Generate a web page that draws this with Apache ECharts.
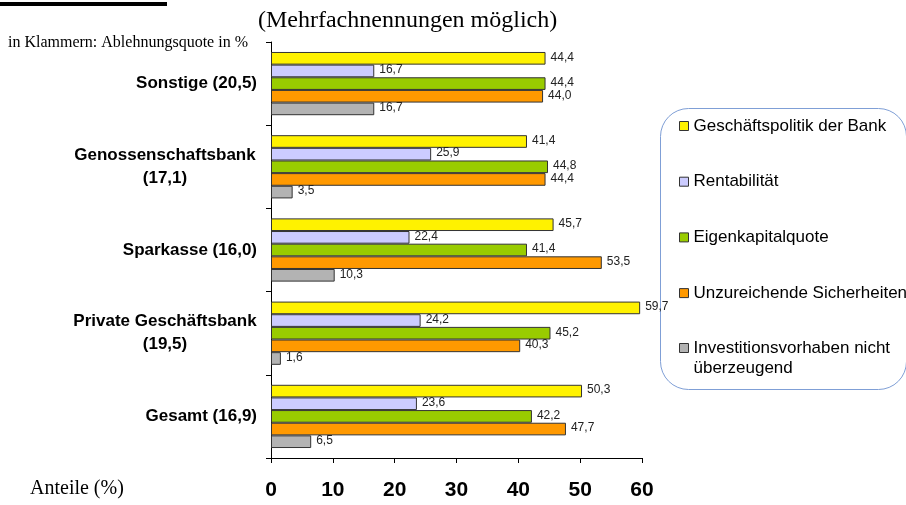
<!DOCTYPE html>
<html>
<head>
<meta charset="utf-8">
<script src="https://cdn.jsdelivr.net/npm/echarts@6/dist/echarts.min.js"></script>
<style>html,body{margin:0;padding:0;background:#fff;}#c{width:906px;height:505px;}</style>
</head>
<body>
<div id="c"></div>
<script>
var categories = ['Sonstige (20,5)', 'Genossenschaftsbank\n(17,1)', 'Sparkasse (16,0)', 'Private Geschäftsbank\n(19,5)', 'Gesamt (16,9)'];
var seriesNames = ['Geschäftspolitik der Bank', 'Rentabilität', 'Eigenkapitalquote', 'Unzureichende Sicherheiten', 'Investitionsvorhaben nicht\nüberzeugend'];
var geschaeftspolitik = [44.4, 41.4, 45.7, 59.7, 50.3];
var rentabilitaet = [16.7, 25.9, 22.4, 24.2, 23.6];
var eigenkapital = [44.4, 44.8, 41.4, 45.2, 42.2];
var sicherheiten = [44.0, 44.4, 53.5, 40.3, 47.7];
var investition = [16.7, 3.5, 10.3, 1.6, 6.5];
var xTicks = [0, 10, 20, 30, 40, 50, 60];
var colors = ['#FFF200', '#CCCCFF', '#99CC00', '#FF9900', '#B3B3B3'];

var SANS = '"Liberation Sans", Arial, sans-serif';
var SERIF = '"Liberation Serif", "Times New Roman", serif';

var cv = document.createElement('canvas').getContext('2d');
cv.font = 'bold 17px ' + SANS;
var maxW = 0;
categories.forEach(function (c) {
  if (c.indexOf('\n') >= 0) c.split('\n').forEach(function (l) { maxW = Math.max(maxW, cv.measureText(l).width); });
});
maxW = Math.ceil(maxW);

var allData = [geschaeftspolitik, rentabilitaet, eigenkapital, sicherheiten, investition];
var series = allData.map(function (d, i) {
  return {
    name: seriesNames[i],
    type: 'bar',
    data: d,
    barGap: '0%',
    barCategoryGap: '24%',
    itemStyle: { color: colors[i], borderColor: '#333', borderWidth: 1 },
    label: {
      show: true, position: 'right', distance: 5, offset: [0, -1],
      fontFamily: SANS, fontSize: 12, color: '#222',
      formatter: function (p) { return p.value.toFixed(1).replace('.', ','); }
    }
  };
});

var legendBase = {
  orient: 'vertical', left: 679, padding: 0,
  itemWidth: 9, itemHeight: 9, itemGap: 35.7,
  icon: 'rect',
  itemStyle: { borderColor: '#333', borderWidth: 1 },
  textStyle: { fontFamily: SANS, fontSize: 17, color: '#000', lineHeight: 20 }
};

var chart = echarts.init(document.getElementById('c'), null, { renderer: 'canvas' });
chart.setOption({
  animation: false,
  backgroundColor: '#fff',
  grid: { left: 271, right: 264, top: 42, bottom: 47, containLabel: false },
  xAxis: {
    type: 'value', min: xTicks[0], max: xTicks[xTicks.length - 1], interval: 10,
    splitLine: { show: false },
    axisLine: { show: true, lineStyle: { color: '#000', width: 1 } },
    axisTick: { show: true, inside: false, length: 5, lineStyle: { color: '#000' } },
    axisLabel: { fontFamily: SANS, fontSize: 21, fontWeight: 'bold', color: '#000', margin: 22 }
  },
  yAxis: {
    type: 'category', data: categories, inverse: true,
    axisLine: { show: true, lineStyle: { color: '#000', width: 1 } },
    axisTick: { show: true, inside: false, length: 5, lineStyle: { color: '#000' } },
    axisLabel: {
      fontFamily: SANS, fontSize: 17, fontWeight: 'bold', color: '#000', margin: 14,
      formatter: function (v) {
        if (v.indexOf('\n') >= 0) {
          return v.split('\n').map(function (l) { return '{c|' + l + '}'; }).join('\n');
        }
        return v;
      },
      rich: { c: { width: maxW, align: 'center', fontFamily: SANS, fontSize: 17, fontWeight: 'bold', color: '#000', lineHeight: 23 } }
    }
  },
  legend: [
    Object.assign({}, legendBase, { top: 116, data: seriesNames.slice(0, 4) }),
    Object.assign({}, legendBase, {
      top: 318, data: seriesNames.slice(4),
      formatter: function (name) { return '{b|\u00a0}\n' + name; },
      textStyle: { fontFamily: SANS, fontSize: 17, color: '#000', lineHeight: 20,
        rich: { b: { fontFamily: SANS, fontSize: 17, lineHeight: 20 } } }
    })
  ],
  graphic: [
    { type: 'rect', left: 0, top: 2, shape: { width: 167, height: 4 }, style: { fill: '#000' } },
    { type: 'rect', left: 658, top: 106, z: -1, shape: { width: 246, height: 281, r: 28 }, style: { fill: 'none', stroke: '#7F9FD6', lineWidth: 1 } },
    { type: 'text', left: 258, top: 9, style: { text: '(Mehrfachnennungen möglich)', font: '24px ' + SERIF, fill: '#000' } },
    { type: 'text', left: 8, top: 35, style: { text: 'in Klammern: Ablehnungsquote in %', font: '16px ' + SERIF, fill: '#000' } },
    { type: 'text', left: 30, top: 479, style: { text: 'Anteile (%)', font: '20px ' + SERIF, fill: '#000' } }
  ],
  series: series
});
</script>
</body>
</html>
